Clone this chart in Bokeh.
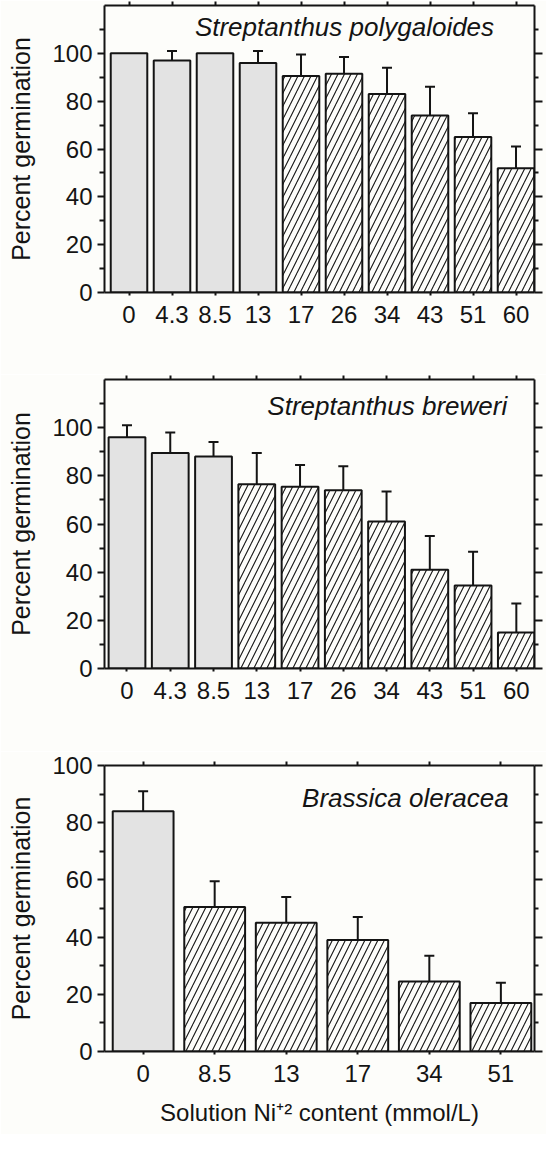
from bokeh.plotting import figure
from bokeh.models import Range1d, FixedTicker, LinearAxis, Whisker, TeeHead, Label, ColumnDataSource
from bokeh.layouts import column
from bokeh.embed import file_html
from bokeh.resources import INLINE

# ---------------- data ----------------
poly_labels = ["0", "4.3", "8.5", "13", "17", "26", "34", "43", "51", "60"]
poly_pct = [100, 97, 100, 96, 90.5, 91.5, 83, 74, 65, 52]
poly_err = [0, 4, 0, 5, 9, 7, 11, 12, 10, 9]
poly_hatched = [False, False, False, False, True, True, True, True, True, True]

brew_labels = ["0", "4.3", "8.5", "13", "17", "26", "34", "43", "51", "60"]
brew_pct = [96, 89.5, 88, 76.5, 75.5, 74, 61, 41, 34.5, 15]
brew_err = [5, 8.5, 6, 13, 9, 10, 12.5, 14, 14, 12]
brew_hatched = [False, False, False, True, True, True, True, True, True, True]

bras_labels = ["0", "8.5", "13", "17", "34", "51"]
bras_pct = [84, 50.5, 45, 39, 24.5, 17]
bras_err = [7, 9, 9, 8, 9, 7]
bras_hatched = [False, True, True, True, True, True]

# ---------------- style ----------------
BG = "#fdfdfa"
GRAY = "#e3e3e3"
INK = "#141414"
FONT = "Liberation Sans"
FS = "24px"
W = 546


def panel(labels, pct, err, hatched, species, sp_x, sp_y, ymax, xr,
          height, bl, fw, bt, bb, xlabel=None):
    n = len(labels)
    xs = list(range(n))
    p = figure(width=W, height=height, x_range=Range1d(*xr), y_range=Range1d(0, ymax),
               output_backend="svg", toolbar_location=None,
               min_border_left=bl, min_border_right=W - bl - fw,
               min_border_top=bt, min_border_bottom=bb,
               background_fill_color=BG, border_fill_color=BG,
               outline_line_color=None)
    p.xgrid.visible = False
    p.ygrid.visible = False

    gx = [x for x, h in zip(xs, hatched) if not h]
    gt = [v for v, h in zip(pct, hatched) if not h]
    hx = [x for x, h in zip(xs, hatched) if h]
    ht = [v for v, h in zip(pct, hatched) if h]
    p.vbar(x=gx, top=gt, bottom=0, width=0.85, fill_color=GRAY,
           line_color=INK, line_width=2)
    p.vbar(x=hx, top=ht, bottom=0, width=0.85, fill_color=BG,
           hatch_pattern="/", hatch_scale=13, hatch_weight=1.1, hatch_color=INK,
           line_color=INK, line_width=2)

    ex = [x for x, e in zip(xs, err) if e > 0]
    elo = [v for v, e in zip(pct, err) if e > 0]
    ehi = [v + e for v, e in zip(pct, err) if e > 0]
    src = ColumnDataSource(dict(x=ex, lower=elo, upper=ehi))
    wh = Whisker(base="x", lower="lower", upper="upper", source=src,
                 dimension="height", line_color=INK, line_width=2,
                 lower_head=None,
                 upper_head=TeeHead(size=10, line_color=INK, line_width=2))
    p.add_layout(wh)

    yt = [t for t in [0, 20, 40, 60, 80, 100] if t <= ymax]
    ym = [t for t in [10, 30, 50, 70, 90, 110] if t < ymax]

    # bottom axis
    xa = p.xaxis[0]
    xa.ticker = FixedTicker(ticks=xs)
    xa.major_label_overrides = {x: lab for x, lab in zip(xs, labels)}
    xa.minor_tick_line_color = None
    xa.major_tick_out = 3
    xa.major_tick_in = 0
    xa.major_tick_line_width = 2
    xa.major_tick_line_color = INK
    xa.axis_line_width = 2
    xa.axis_line_color = INK
    xa.major_label_standoff = 10
    xa.major_label_text_font = FONT
    xa.major_label_text_font_size = FS
    xa.major_label_text_color = INK
    if xlabel:
        xa.axis_label = xlabel
        xa.axis_label_text_font = FONT
        xa.axis_label_text_font_size = FS
        xa.axis_label_text_font_style = "normal"
        xa.axis_label_text_color = INK
        xa.axis_label_standoff = 14

    # left axis
    ya = p.yaxis[0]
    ya.ticker = FixedTicker(ticks=yt, minor_ticks=ym)
    ya.axis_line_width = 2
    ya.axis_line_color = INK
    ya.major_tick_out = 7
    ya.major_tick_in = 0
    ya.minor_tick_out = 5
    ya.minor_tick_in = 0
    ya.major_tick_line_width = 2
    ya.minor_tick_line_width = 2
    ya.major_tick_line_color = INK
    ya.minor_tick_line_color = INK
    ya.major_label_standoff = 5
    ya.major_label_text_font = FONT
    ya.major_label_text_font_size = FS
    ya.major_label_text_color = INK
    ya.axis_label = "Percent germination"
    ya.axis_label_text_font = FONT
    ya.axis_label_text_font_size = "25px"
    ya.axis_label_text_font_style = "normal"
    ya.axis_label_text_color = INK
    ya.axis_label_standoff = 14

    # top axis (ticks only, empty labels)
    ta = LinearAxis(ticker=FixedTicker(ticks=xs),
                    major_label_overrides={x: "" for x in xs},
                    major_label_text_font_size="1px",
                    major_label_standoff=0, major_tick_out=4, major_tick_in=0,
                    major_tick_line_width=2, major_tick_line_color=INK,
                    minor_tick_line_color=None, axis_line_width=2, axis_line_color=INK)
    p.add_layout(ta, "above")

    # right axis (ticks only, empty labels)
    ra = LinearAxis(ticker=FixedTicker(ticks=yt, minor_ticks=ym),
                    major_label_overrides={t: "" for t in yt},
                    major_label_text_font_size="1px", major_label_standoff=0,
                    major_tick_out=8, major_tick_in=0, minor_tick_out=4, minor_tick_in=0,
                    major_tick_line_width=2, minor_tick_line_width=2,
                    major_tick_line_color=INK, minor_tick_line_color=INK,
                    axis_line_width=2, axis_line_color=INK)
    p.add_layout(ra, "right")

    p.add_layout(Label(x=sp_x, y=sp_y, text=species, text_font=FONT,
                       text_font_size="26px", text_font_style="italic",
                       text_align="right", text_baseline="middle", text_color=INK))
    return p


p1 = panel(poly_labels, poly_pct, poly_err, poly_hatched, "Streptanthus polygaloides",
           8.49, 111, 120, (-0.57, 9.43), height=374, bl=98, fw=436, bt=5, bb=82)
p2 = panel(brew_labels, brew_pct, brew_err, brew_hatched, "Streptanthus breweri",
           8.79, 109, 120, (-0.52, 9.42), height=377, bl=104, fw=433, bt=5, bb=83)
p3 = panel(bras_labels, bras_pct, bras_err, bras_hatched, "Brassica oleracea",
           5.11, 88.5, 100, (-0.54, 5.47), height=383, bl=98, fw=437, bt=14, bb=83,
           xlabel="Solution Ni\u207a\u00b2 content (mmol/L)")

layout = column(p1, p2, p3, spacing=0)
html = file_html(layout, INLINE)
open("out.html", "w").write(html)
